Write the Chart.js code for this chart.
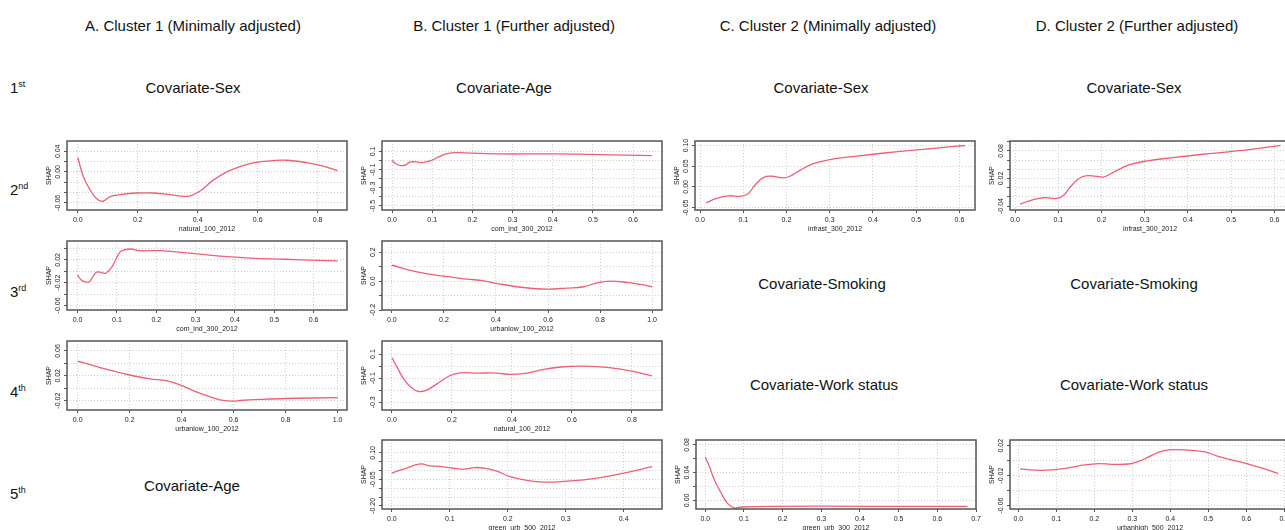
<!DOCTYPE html>
<html>
<head>
<meta charset="utf-8">
<script src="https://cdn.jsdelivr.net/npm/chart.js@4.4.1/dist/chart.umd.min.js"></script>
<style>
  body { margin:0; width:1285px; height:530px; overflow:hidden; background:#fff; position:relative;
         font-family:'Liberation Sans', Arial, sans-serif; color:#111; }
  .t { position:absolute; font-size:15px; line-height:15px; white-space:nowrap; transform:translateX(-50%); }
  .r { position:absolute; left:10px; font-size:15px; line-height:15px; white-space:nowrap; }
  .r sup { font-size:9px; line-height:0; vertical-align:6px; }
  canvas { position:absolute; }
</style>
</head>
<body>
<div class="t" style="left:193px;top:18px">A. Cluster 1 (Minimally adjusted)</div>
<div class="t" style="left:514px;top:18px">B. Cluster 1 (Further adjusted)</div>
<div class="t" style="left:828px;top:18px">C. Cluster 2 (Minimally adjusted)</div>
<div class="t" style="left:1137px;top:18px">D. Cluster 2 (Further adjusted)</div>

<div class="r" style="top:80px">1<sup>st</sup></div>
<div class="r" style="top:182px">2<sup>nd</sup></div>
<div class="r" style="top:284px">3<sup>rd</sup></div>
<div class="r" style="top:384px">4<sup>th</sup></div>
<div class="r" style="top:486px">5<sup>th</sup></div>

<div class="t" style="left:193px;top:80px">Covariate-Sex</div>
<div class="t" style="left:504px;top:80px">Covariate-Age</div>
<div class="t" style="left:821px;top:80px">Covariate-Sex</div>
<div class="t" style="left:1134px;top:80px">Covariate-Sex</div>
<div class="t" style="left:822px;top:276px">Covariate-Smoking</div>
<div class="t" style="left:1134px;top:276px">Covariate-Smoking</div>
<div class="t" style="left:824px;top:377px">Covariate-Work status</div>
<div class="t" style="left:1134px;top:377px">Covariate-Work status</div>
<div class="t" style="left:192px;top:478px">Covariate-Age</div>

<script>
// ---- data (x = exposure, y = SHAP) ----

// A. Cluster 1, minimally adjusted
const a2X = [0, 0.019, 0.041, 0.063, 0.083, 0.108, 0.141, 0.197, 0.252, 0.308, 0.347, 0.372, 0.408, 0.452, 0.508, 0.574, 0.63, 0.697, 0.763, 0.819, 0.866];
const a2Y = [0.028, -0.010, -0.035, -0.052, -0.057, -0.048, -0.044, -0.041, -0.041, -0.044, -0.047, -0.047, -0.037, -0.016, 0.003, 0.016, 0.021, 0.0226, 0.018, 0.011, 0.0026];
const a3X = [0, 0.0085, 0.021, 0.031, 0.038, 0.0485, 0.061, 0.072, 0.087, 0.0995, 0.11, 0.133, 0.158, 0.21, 0.278, 0.355, 0.44, 0.525, 0.61, 0.661];
const a3Y = [-0.0064, -0.015, -0.019, -0.018, -0.0104, -0.0017, -0.0023, -0.0035, 0.007, 0.024, 0.035, 0.039, 0.036, 0.036, 0.032, 0.027, 0.023, 0.021, 0.019, 0.018];
const a4X = [0, 0.084, 0.2, 0.277, 0.341, 0.393, 0.47, 0.547, 0.598, 0.624, 0.701, 0.798, 1.0];
const a4Y = [0.0437, 0.0336, 0.0213, 0.015, 0.0123, 0.0053, -0.008, -0.0187, -0.0208, -0.0197, -0.018, -0.0165, -0.015];

// B. Cluster 1, further adjusted
const b2X = [0, 0.0083, 0.021, 0.033, 0.044, 0.062, 0.075, 0.095, 0.116, 0.137, 0.162, 0.2, 0.27, 0.394, 0.519, 0.647];
const b2Y = [0.004, -0.033, -0.055, -0.051, -0.018, -0.015, -0.022, -0.004, 0.04, 0.077, 0.088, 0.081, 0.073, 0.073, 0.066, 0.055];
const b3X = [0, 0.096, 0.199, 0.288, 0.353, 0.417, 0.506, 0.596, 0.673, 0.737, 0.788, 0.84, 0.904, 0.955, 1.0];
const b3Y = [0.11, 0.064, 0.034, 0.014, 0.0023, -0.021, -0.044, -0.055, -0.048, -0.039, -0.0115, 0, -0.009, -0.023, -0.039];
const b4X = [0, 0.017, 0.039, 0.061, 0.089, 0.117, 0.15, 0.194, 0.228, 0.283, 0.35, 0.394, 0.45, 0.506, 0.572, 0.639, 0.717, 0.8, 0.867];
const b4Y = [0.069, -0.008, -0.106, -0.169, -0.211, -0.197, -0.147, -0.078, -0.056, -0.058, -0.058, -0.069, -0.058, -0.028, -0.0056, 0, -0.011, -0.042, -0.081];
const b5X = [0, 0.02, 0.049, 0.066, 0.083, 0.106, 0.124, 0.144, 0.164, 0.181, 0.204, 0.233, 0.262, 0.296, 0.331, 0.365, 0.4, 0.449];
const b5Y = [-0.015, 0.0075, 0.0375, 0.026, 0.024, 0.013, 0.0075, 0.017, 0.011, -0.004, -0.034, -0.056, -0.066, -0.062, -0.053, -0.0375, -0.015, 0.0225];

// C. Cluster 2, minimally adjusted
const c2X = [0.014, 0.0385, 0.0655, 0.096, 0.112, 0.127, 0.146, 0.166, 0.193, 0.208, 0.231, 0.262, 0.3, 0.362, 0.432, 0.509, 0.594, 0.613];
const c2Y = [-0.0385, -0.028, -0.0217, -0.0225, -0.016, 0.004, 0.0225, 0.0257, 0.0217, 0.0257, 0.04, 0.056, 0.066, 0.0746, 0.0826, 0.09, 0.0986, 0.1];
const c5X = [0, 0.0104, 0.0234, 0.041, 0.058, 0.0755, 0.093, 0.1665, 0.427, 0.678];
const c5Y = [0.0623, 0.049, 0.0297, 0.0105, -0.0048, -0.011, -0.0096, -0.0086, -0.0086, -0.0086];

// D. Cluster 2, further adjusted
const d2X = [0.0117, 0.039, 0.066, 0.097, 0.113, 0.128, 0.148, 0.163, 0.186, 0.206, 0.229, 0.264, 0.303, 0.365, 0.435, 0.513, 0.614];
const d2Y = [-0.0357, -0.027, -0.022, -0.0234, -0.016, 0.002, 0.02, 0.0258, 0.025, 0.0236, 0.0345, 0.0496, 0.058, 0.0655, 0.0728, 0.08, 0.092];
const d5X = [0.0044, 0.044, 0.088, 0.132, 0.175, 0.21, 0.246, 0.29, 0.316, 0.342, 0.368, 0.395, 0.439, 0.491, 0.526, 0.596, 0.64, 0.684];
const d5Y = [-0.011, -0.0127, -0.0123, -0.0097, -0.0057, -0.004, -0.0048, -0.0044, -0.0009, 0.0048, 0.011, 0.0145, 0.0145, 0.0119, 0.0057, -0.0031, -0.0097, -0.0171];

// ticks
const ticks02to08 = [0, 0.2, 0.4, 0.6, 0.8];
const ticks01to06 = [0, 0.1, 0.2, 0.3, 0.4, 0.5, 0.6];
const ticks02to10 = [0, 0.2, 0.4, 0.6, 0.8, 1.0];
const ticks01to04 = [0, 0.1, 0.2, 0.3, 0.4];
const ticks01to07 = [0, 0.1, 0.2, 0.3, 0.4, 0.5, 0.6, 0.7];

const a2YTicks = [-0.06, -0.04, -0.02, 0, 0.02, 0.04];
const a2YLabels = ['-0.06', '', '', '0.00', '', '0.04'];
const a3YTicks = [-0.06, -0.04, -0.02, 0, 0.02, 0.04];
const a3YLabels = ['-0.06', '', '-0.02', '', '0.02', ''];
const a4YTicks = [-0.02, 0, 0.02, 0.04, 0.06];
const a4YLabels = ['-0.02', '', '0.02', '', '0.06'];
const b2YTicks = [-0.5, -0.4, -0.3, -0.2, -0.1, 0, 0.1];
const b2YLabels = ['-0.5', '', '-0.3', '', '-0.1', '', '0.1'];
const b3YTicks = [-0.2, -0.1, 0, 0.1, 0.2];
const b3YLabels = ['-0.2', '', '0.0', '', '0.2'];
const b4YTicks = [-0.3, -0.2, -0.1, 0, 0.1];
const b4YLabels = ['-0.3', '', '-0.1', '', '0.1'];
const b5YTicks = [-0.2, -0.15, -0.1, -0.05, 0, 0.05, 0.1];
const b5YLabels = ['-0.20', '', '', '-0.05', '', '', '0.10'];
const c2YTicks = [-0.05, 0, 0.05, 0.1];
const c2YLabels = ['-0.05', '0.00', '0.05', '0.10'];
const c5YTicks = [0, 0.02, 0.04, 0.06, 0.08];
const c5YLabels = ['0.00', '', '0.04', '', '0.08'];
const d2YTicks = [-0.04, -0.02, 0, 0.02, 0.04, 0.06, 0.08, 0.1];
const d2YLabels = ['-0.04', '', '', '0.02', '', '', '0.08', ''];
const d5YTicks = [-0.06, -0.04, -0.02, 0, 0.02];
const d5YLabels = ['-0.06', '', '-0.02', '', '0.02'];

// panel list: box position on page, axis ranges, titles
const panels = [
  { x: a2X, y: a2Y, xt: ticks02to08, yt: a2YTicks, yl: a2YLabels, xr: [-0.036, 0.898], yr: [-0.074, 0.06], title: 'natural_100_2012', left: 67, top: 141 },
  { x: a3X, y: a3Y, xt: ticks01to06, yt: a3YTicks, yl: a3YLabels, xr: [-0.027, 0.685], yr: [-0.068, 0.053], title: 'com_ind_300_2012', left: 67, top: 241 },
  { x: a4X, y: a4Y, xt: ticks02to10, yt: a4YTicks, yl: a4YLabels, xr: [-0.041, 1.036], yr: [-0.035, 0.076], title: 'urbanlow_100_2012', left: 67, top: 341 },
  { x: b2X, y: b2Y, xt: ticks01to06, yt: b2YTicks, yl: b2YLabels, xr: [-0.025, 0.672], yr: [-0.546, 0.216], title: 'com_ind_300_2012', left: 382, top: 141 },
  { x: b3X, y: b3Y, xt: ticks02to10, yt: b3YTicks, yl: b3YLabels, xr: [-0.038, 1.038], yr: [-0.2, 0.278], title: 'urbanlow_100_2012', left: 382, top: 241 },
  { x: b4X, y: b4Y, xt: ticks02to08, yt: b4YTicks, yl: b4YLabels, xr: [-0.033, 0.9], yr: [-0.364, 0.208], title: 'natural_100_2012', left: 382, top: 341 },
  { x: b5X, y: b5Y, xt: ticks01to04, yt: b5YTicks, yl: b5YLabels, xr: [-0.017, 0.466], yr: [-0.218, 0.173], title: 'green_urb_500_2012', left: 382, top: 440 },
  { x: c2X, y: c2Y, xt: ticks01to06, yt: c2YTicks, yl: c2YLabels, xr: [-0.0116, 0.636], yr: [-0.056, 0.111], title: 'infrast_300_2012', left: 695, top: 141 },
  { x: c5X, y: c5Y, xt: ticks01to07, yt: c5YTicks, yl: c5YLabels, xr: [-0.024, 0.7], yr: [-0.0125, 0.087], title: 'green_urb_300_2012', left: 696, top: 440 },
  { x: d2X, y: d2Y, xt: ticks01to06, yt: d2YTicks, yl: d2YLabels, xr: [-0.0117, 0.636], yr: [-0.0487, 0.1017], title: 'infrast_300_2012', left: 1010, top: 141 },
  { x: d5X, y: d5Y, xt: ticks01to07, yt: d5YTicks, yl: d5YLabels, xr: [-0.022, 0.715], yr: [-0.0646, 0.0277], title: 'urbanhigh_500_2012', left: 1010, top: 440 }
];

const FAMILY = "'Liberation Sans', Arial, sans-serif";
const RED = '#ee5f76';
const GRID = '#cfcfcf';
const AXIS = '#555';
const TXT = '#222';
const BOX_W = 280, BOX_H = 69, YW = 26, XH = 23, PT = 12, PR = 14;

const boxPlugin = {
  id: 'box',
  afterDraw(chart) {
    const a = chart.chartArea, c = chart.ctx;
    c.save();
    c.strokeStyle = AXIS;
    c.lineWidth = 1.5;
    c.strokeRect(a.left, a.top, a.right - a.left, a.bottom - a.top);
    c.restore();
  }
};

const measure = document.createElement('canvas').getContext('2d');
function widest(labels, size) {
  measure.font = size + 'px ' + FAMILY;
  return Math.max(...labels.map(l => measure.measureText(l).width));
}

function makePanel(p) {
  const cv = document.createElement('canvas');
  cv.width = BOX_W + YW + PR;
  cv.height = BOX_H + PT + XH;
  cv.style.left = (p.left - YW) + 'px';
  cv.style.top = (p.top - PT) + 'px';
  document.body.appendChild(cv);

  const yPad = 9 - 3 - widest(p.yl, 7) / 2;

  new Chart(cv, {
    type: 'scatter',
    data: {
      datasets: [{
        data: p.x.map((v, i) => ({ x: v, y: p.y[i] })),
        showLine: true,
        borderColor: RED,
        borderWidth: 1.3,
        pointRadius: 0,
        tension: 0.4
      }]
    },
    options: {
      responsive: false,
      animation: false,
      devicePixelRatio: 1,
      layout: { padding: { left: 0, top: PT, right: PR, bottom: 0 } },
      plugins: { legend: { display: false }, tooltip: { enabled: false } },
      scales: {
        x: {
          type: 'linear', min: p.xr[0], max: p.xr[1],
          afterBuildTicks: s => { s.ticks = p.xt.map(v => ({ value: v })); },
          afterFit: s => { s.height = XH; },
          ticks: { autoSkip: false, maxRotation: 0, padding: 3, color: TXT,
                   font: { size: 7, family: FAMILY }, callback: v => v.toFixed(1) },
          grid: { color: GRID, tickColor: AXIS, tickLength: 3, lineWidth: 1 },
          border: { display: false, dash: [1, 2] },
          title: { display: true, text: p.title, color: TXT, font: { size: 7, family: FAMILY },
                   padding: { top: 0, bottom: 0 } }
        },
        y: {
          type: 'linear', min: p.yr[0], max: p.yr[1],
          afterBuildTicks: s => { s.ticks = p.yt.map(v => ({ value: v })); },
          afterFit: s => { s.width = YW; },
          ticks: { autoSkip: false, minRotation: 90, maxRotation: 90, crossAlign: 'center',
                   padding: yPad, color: TXT, font: { size: 7, family: FAMILY },
                   callback: (v, i) => p.yl[i] },
          grid: { color: GRID, tickColor: AXIS, tickLength: 3, lineWidth: 1 },
          border: { display: false, dash: [1, 2] },
          title: { display: true, text: 'SHAP', color: TXT, font: { size: 7, family: FAMILY },
                   padding: { top: 4, bottom: 0 } }
        }
      }
    },
    plugins: [boxPlugin]
  });
}

panels.forEach(makePanel);
</script>
</body>
</html>
